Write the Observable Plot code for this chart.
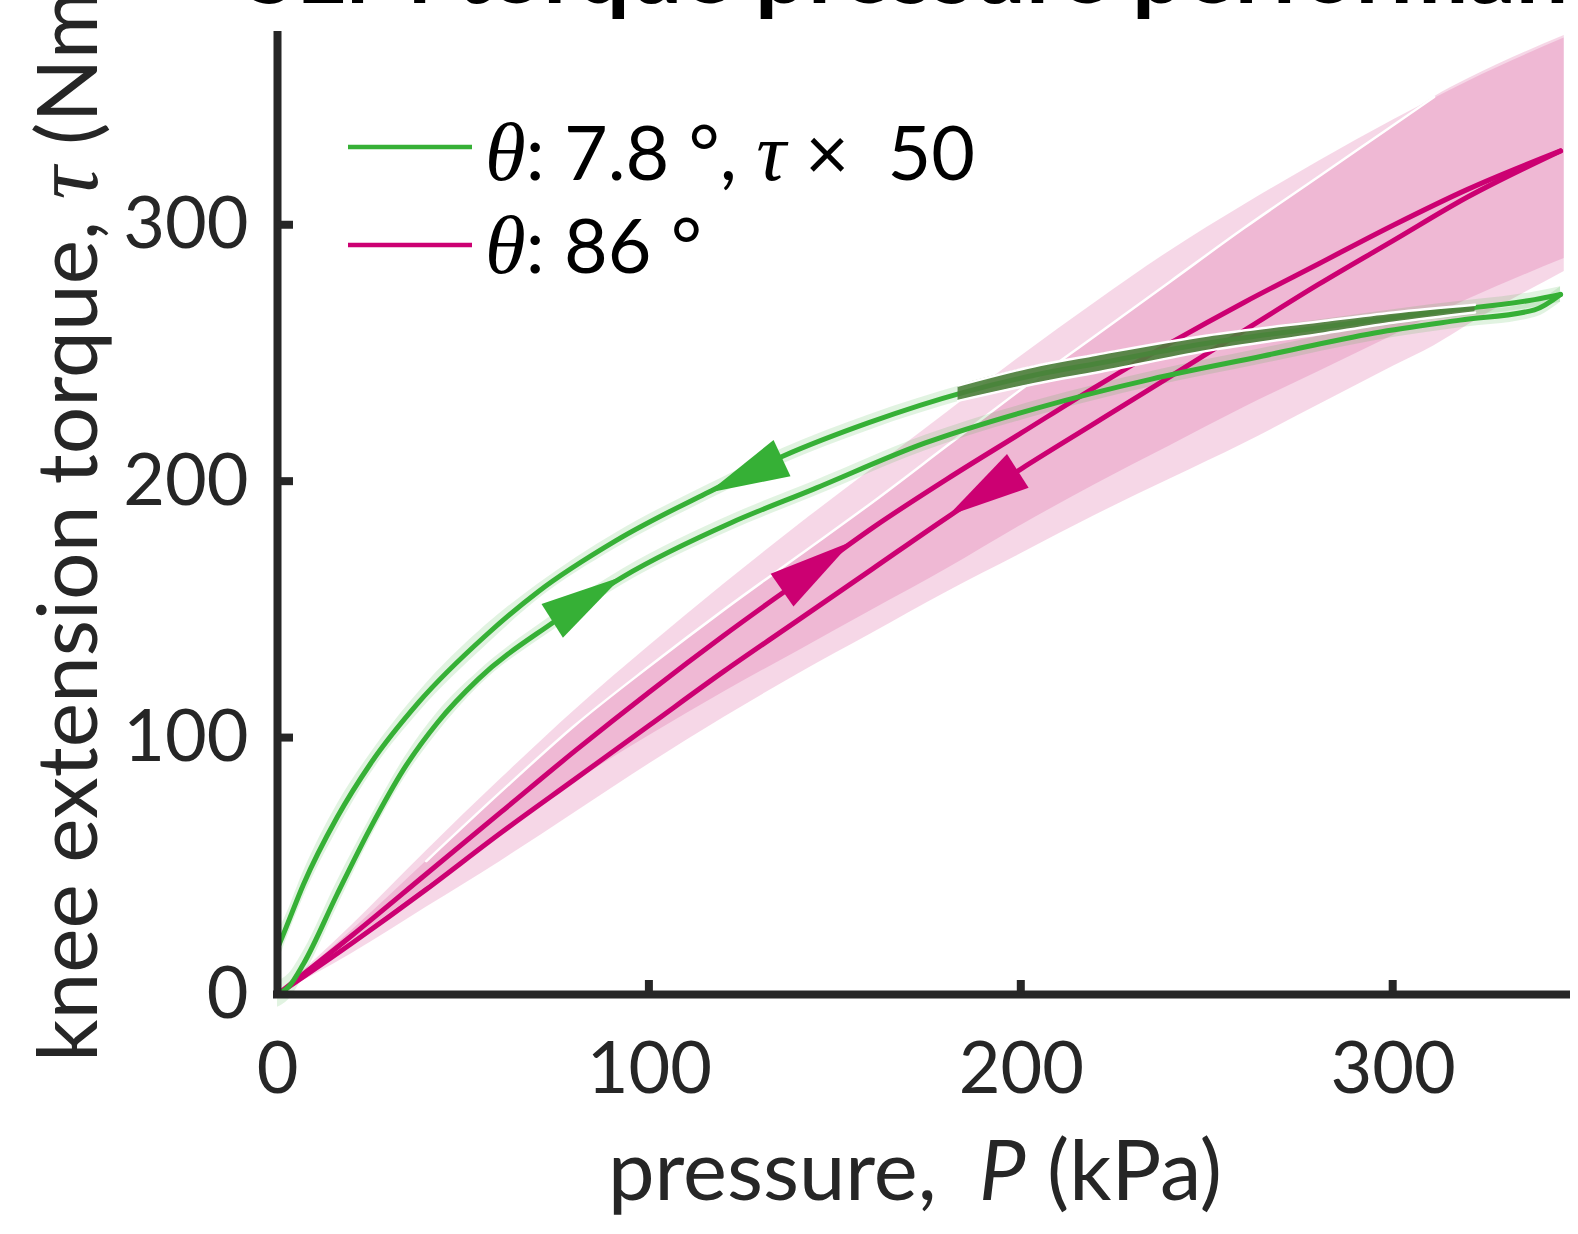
<!DOCTYPE html>
<html><head><meta charset="utf-8">
<script src="https://cdn.jsdelivr.net/npm/d3@7"></script>
<script src="https://cdn.jsdelivr.net/npm/@observablehq/plot@0.6"></script>
<style>html,body{margin:0;padding:0;background:#fff;overflow:hidden}</style>
</head><body><div id="chart"></div><script>
// ---------- data ----------
const xTicks = [0, 100, 200, 300];
const yTicks = [0, 100, 200, 300];

// θ = 7.8°, torque ×50 : loading branch (lower green)
const greenLoadP      = [0, 3, 7, 16, 25, 34, 43, 54, 74, 93, 122, 144, 174, 205, 235, 265, 295, 318, 338, 345];
const greenLoadTau    = [0, 3, 12, 39, 65, 88, 106, 123, 145, 163, 184, 197, 215, 229, 240, 249, 258, 263, 267, 273];
const greenLoadSpread = [5, 5, 5, 5, 4, 4, 4, 3, 3, 3, 3, 3, 3, 3, 3, 3, 3, 3, 3, 3];
// θ = 7.8°, torque ×50 : unloading branch (upper green)
const greenUnloadP      = [0, 2, 7, 16, 25, 38, 56, 70, 91, 116, 136, 159, 185, 205, 220, 250, 280, 310, 338, 345];
const greenUnloadTau    = [18, 25, 43, 69, 90, 114, 140, 157, 177, 196, 210, 223, 235, 242, 246, 254, 260, 266, 271, 273];
const greenUnloadSpread = [6, 5, 5, 5, 4, 4, 4, 3, 3, 3, 3, 3, 3, 3, 3, 3, 3, 3, 3, 3];
// dark overlap band along the unloading green branch
const darkBandP   = [183, 205, 220, 250, 280, 300, 322];
const darkBandTop = [237.5, 245.5, 249.5, 257, 262.5, 266, 269];
const darkBandBot = [231.5, 238.5, 242.5, 251, 257.5, 262, 266];

// θ = 86° : loading branch (upper magenta)
const magLoadP   = [0, 20, 40, 60, 80, 100, 120, 140, 160, 180, 200, 220, 240, 260, 280, 300, 320, 345];
const magLoadTau = [0, 23, 47, 71, 95, 118, 140, 161, 182, 201, 219, 237, 254, 270, 285, 300, 314, 329];
// θ = 86° : unloading branch (lower magenta)
const magUnloadP   = [0, 20, 40, 60, 80, 100, 120, 140, 160, 180, 200, 220, 240, 260, 280, 300, 320, 345];
const magUnloadTau = [0, 20, 41, 63, 84, 105, 126, 146, 166, 186, 205, 223, 241, 259, 277, 294, 311, 329];

// spread bands of θ = 86°
const bandAP  = [0, 20, 40, 60, 80, 100, 120, 140, 160, 180, 200, 220, 240, 260, 280, 300, 320, 346];
const bandAHi = [0, 27, 56, 84, 111, 136, 160, 183, 205, 227, 249, 270, 290, 308, 325, 341, 356, 373];
const bandALo = [0, 21, 42, 63, 83, 101, 118, 134, 150, 166, 183, 199, 214, 229, 243, 257, 271, 287];
const bandBP  = [0, 20, 40, 60, 80, 100, 120, 140, 160, 180, 200, 220, 240, 260, 280, 300, 311, 320, 346];
const bandBHi = [0, 25, 52, 79, 105, 128, 150, 171, 192, 214, 236, 257, 278, 299, 319, 339, 350, 357, 374];
const bandBLo = [0, 16, 34, 52, 71, 90, 108, 125, 141, 157, 172, 187, 201, 215, 230, 245, 253, 261, 282];

// direction arrows (tip and base centre)
const arrowTipP    = [92.7, 115.9, 154.6, 180.4];
const arrowTipTau  = [162.7, 195.5, 176.5, 186.5];
const arrowBaseP   = [74, 135.8, 135.8, 199.2];
const arrowBaseTau = [145.5, 209, 157.5, 204];
const arrowSeries  = ["green", "green", "magenta", "magenta"];

// ---------- styles ----------
const GREEN = "#36b036", MAG = "#cc0072", PINK = "#d74d94", AX = "#262626";
const SANS = "Lato", SERIF = "Liberation Serif";
const curve = "monotone-x";
const LW = 5;

const toRows = (P, Y) => P.map((p, i) => ({p, t: Y[i]}));
const bandRows = (P, lo, hi) => P.map((p, i) => ({p, lo: lo[i], hi: hi[i]}));
const spreadRows = (P, Y, S) => P.map((p, i) => ({p, lo: Y[i] - S[i], hi: Y[i] + S[i]}));

function getScales(scales, dims) {
  let sx = scales && typeof scales.x === "function" ? scales.x : null;
  let sy = scales && typeof scales.y === "function" ? scales.y : null;
  if (!sx) sx = d3.scaleLinear([0, 346.6], [dims.marginLeft, dims.width - dims.marginRight]);
  if (!sy) sy = d3.scaleLinear([0, 374], [dims.height - dims.marginBottom, dims.marginTop]);
  return [sx, sy];
}

const arrowMark = (index, scales, values, dims) => {
  const [sx, sy] = getScales(scales, dims);
  const g = d3.create("svg:g");
  arrowTipP.forEach((_, i) => {
    const tx = sx(arrowTipP[i]), ty = sy(arrowTipTau[i]);
    const bx = sx(arrowBaseP[i]), by = sy(arrowBaseTau[i]);
    const L = Math.hypot(bx - tx, by - ty), ux = (bx - tx) / L, uy = (by - ty) / L;
    const h = 20;
    const pts = [[tx, ty], [bx - uy * h, by + ux * h], [bx + uy * h, by - ux * h]];
    g.append("path").attr("d", "M" + pts.map(p => p.join(",")).join("L") + "Z")
      .attr("fill", arrowSeries[i] === "green" ? GREEN : MAG);
  });
  return g.node();
};

const tickMark = (index, scales, values, dims) => {
  const [sx, sy] = getScales(scales, dims);
  const g = d3.create("svg:g").attr("stroke", AX).attr("stroke-width", 8);
  const x0 = sx(0), y0 = sy(0);
  xTicks.filter(t => t > 0).forEach(t => g.append("line").attr("x1", sx(t)).attr("x2", sx(t)).attr("y1", y0).attr("y2", y0 - 14));
  yTicks.filter(t => t > 0).forEach(t => g.append("line").attr("y1", sy(t)).attr("y2", sy(t)).attr("x1", x0).attr("x2", x0 + 16));
  return g.node();
};

const svg = Plot.plot({
  width: 1578, height: 1234,
  marginLeft: 277, marginRight: 12, marginTop: 35, marginBottom: 240,
  x: {domain: [0, 346.6], ticks: xTicks, tickSize: 0, tickPadding: 47, label: null, tickFormat: d => String(d)},
  y: {domain: [0, 374], ticks: yTicks, tickSize: 0, tickPadding: 29, label: null, tickFormat: d => String(d)},
  style: {fontFamily: SANS, fontSize: "72px", color: AX, background: "white", overflow: "hidden"},
  marks: [
    Plot.areaY(bandRows(bandAP, bandALo, bandAHi), {x: "p", y1: "lo", y2: "hi", fill: PINK, fillOpacity: 0.225, curve}),
    Plot.areaY(bandRows(bandBP, bandBLo, bandBHi), {x: "p", y1: "lo", y2: "hi", fill: PINK, fillOpacity: 0.225, curve}),
    Plot.line(toRows(bandBP, bandBHi).filter(d => d.p >= 40 && d.p <= 311), {x: "p", y: "t", stroke: "white", strokeWidth: 2.5, curve}),
    Plot.areaY(spreadRows(greenLoadP, greenLoadTau, greenLoadSpread), {x: "p", y1: "lo", y2: "hi", fill: GREEN, fillOpacity: 0.15, curve}),
    Plot.areaY(spreadRows(greenUnloadP, greenUnloadTau, greenUnloadSpread), {x: "p", y1: "lo", y2: "hi", fill: GREEN, fillOpacity: 0.15, curve}),
    Plot.line(toRows(magLoadP, magLoadTau), {x: "p", y: "t", stroke: MAG, strokeWidth: LW, curve}),
    Plot.line(toRows(magUnloadP, magUnloadTau), {x: "p", y: "t", stroke: MAG, strokeWidth: LW, curve}),
    Plot.line(toRows(greenLoadP, greenLoadTau), {x: "p", y: "t", stroke: GREEN, strokeWidth: LW, curve}),
    Plot.line(toRows(greenUnloadP, greenUnloadTau), {x: "p", y: "t", stroke: GREEN, strokeWidth: LW, curve}),
    Plot.areaY(bandRows(darkBandP, darkBandBot, darkBandTop), {x: "p", y1: "lo", y2: "hi", fill: "#4d7f3c", fillOpacity: 0.9, curve}),
    Plot.line(toRows(darkBandP, darkBandTop), {x: "p", y: "t", stroke: "white", strokeWidth: 2.5, curve}),
    Plot.line(toRows(darkBandP, darkBandBot), {x: "p", y: "t", stroke: "white", strokeWidth: 2.5, curve}),
    arrowMark,
    Plot.ruleX([0], {stroke: AX, strokeWidth: 8, strokeLinecap: "square"}),
    Plot.ruleY([0], {stroke: AX, strokeWidth: 8, strokeLinecap: "square"}),
    tickMark
  ]
});
document.getElementById("chart").append(svg);

// ---------- texts ----------
const s = d3.select(svg);
function measure(str, attrs) {
  const t = s.append("text").attr("style", "white-space:pre").text(str);
  for (const k in attrs) t.attr(k, attrs[k]);
  const w = t.node().getComputedTextLength();
  t.remove();
  return w;
}

// title (mostly cropped at top, as in the reference)
{
  const base = {"font-family": SANS, "font-weight": 700, "font-size": 80};
  const fs = 80 * 377 / measure("pressure ", base);
  const at = {...base, "font-size": fs};
  const x = 755 - measure("SLM torque ", at);
  s.append("text").attr("x", x).attr("y", 3).attr("text-anchor", "start")
    .attr("font-family", SANS).attr("font-weight", 700).attr("font-size", fs).attr("fill", "#000")
    .attr("style", "white-space:pre").text("SLM torque pressure performance");
}

// legend
{
  s.append("line").attr("x1", 348).attr("x2", 472).attr("y1", 147).attr("y2", 147).attr("stroke", GREEN).attr("stroke-width", 4.5);
  s.append("line").attr("x1", 348).attr("x2", 472).attr("y1", 245).attr("y2", 245).attr("stroke", MAG).attr("stroke-width", 4.5);
  const mk = (y, parts) => {
    const t = s.append("text").attr("x", 485).attr("y", y).attr("text-anchor", "start")
      .attr("font-family", SANS).attr("font-size", 72).attr("fill", "#000").attr("style", "white-space:pre");
    parts.forEach(([str, it]) => {
      const sp = t.append("tspan").text(str);
      if (it) sp.attr("font-family", SERIF).attr("font-style", "italic").attr("font-size", "1.1em");
    });
    return t;
  };
  const r1 = mk(180, [["θ", true], [": 7.8 °, ", false], ["τ", true], [" ×  50", false]]);
  const fs = 72 * 490 / r1.node().getComputedTextLength();
  r1.attr("font-size", fs);
  const r2 = mk(273, [["θ", true], [": 86 °", false]]);
  r2.attr("font-size", fs);
}

// x label
{
  const t = s.append("text").attr("x", 608).attr("y", 1200).attr("text-anchor", "start")
    .attr("font-family", SANS).attr("font-size", 80).attr("fill", AX).attr("style", "white-space:pre");
  t.append("tspan").text("pressure,  ");
  t.append("tspan").attr("font-style", "italic").text("P");
  t.append("tspan").text(" (kPa)");
  t.attr("font-size", 80 * 614 / t.node().getComputedTextLength());
}

// y label (rotated, cropped at top as in the reference)
{
  const t = s.append("text").attr("transform", "translate(97,1062) rotate(-90)").attr("text-anchor", "start")
    .attr("font-family", SANS).attr("font-size", 80).attr("fill", AX).attr("style", "white-space:pre");
  t.append("tspan").text("knee extension torque, ");
  t.append("tspan").attr("font-family", SERIF).attr("font-style", "italic").attr("font-size", "1.1em").text("τ");
  t.append("tspan").text(" (Nm");
  t.attr("font-size", 80 * 1072 / t.node().getComputedTextLength());
  t.append("tspan").text(")");
}
</script></body></html>
